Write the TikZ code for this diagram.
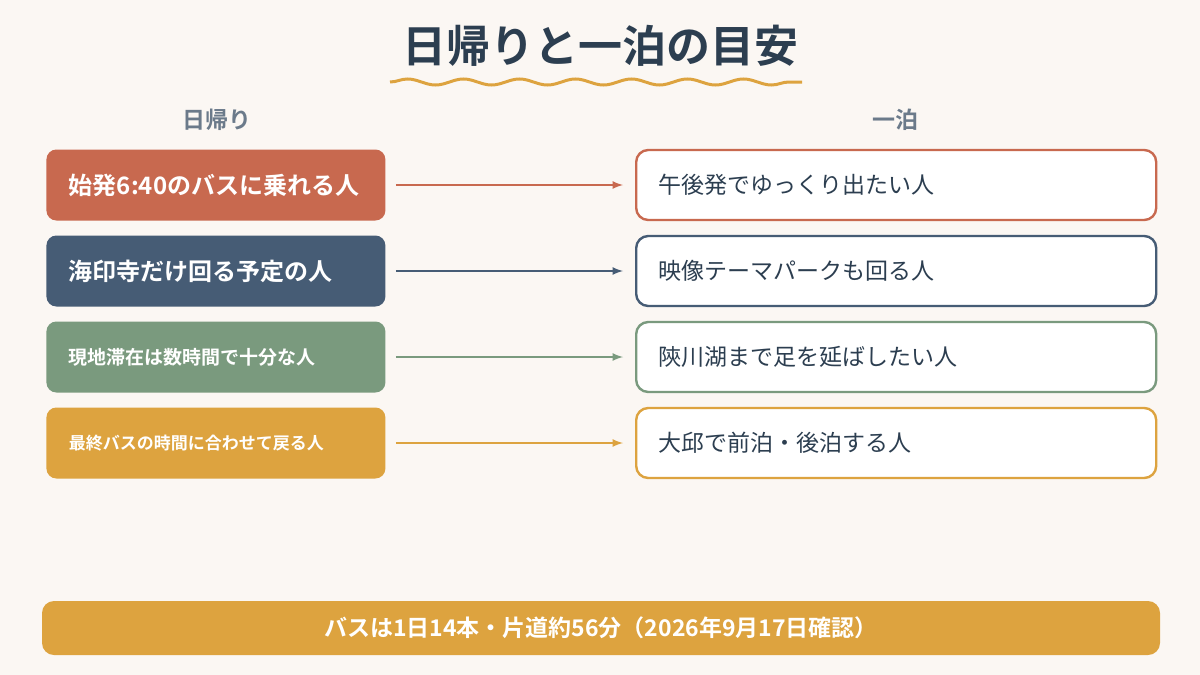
\documentclass[tikz,border=0pt]{standalone}
\usepackage{fontspec}
\setmainfont{Noto Sans CJK JP}[BoldFont=* Bold]
\usetikzlibrary{positioning,decorations.pathmorphing}
\definecolor{bg}{HTML}{FBF7F3}
\definecolor{ink}{HTML}{2C3E50}
\definecolor{grayhead}{HTML}{6B7A8A}
\definecolor{cRed}{HTML}{C8694F}
\definecolor{cBlue}{HTML}{465C75}
\definecolor{cGreen}{HTML}{7A9A7E}
\definecolor{cGold}{HTML}{DDA33F}
\tikzset{
    >=latex,
    % left boxes
    dayb/.style={
           rectangle, rounded corners=5pt,
           fill=#1, draw=none, text=white,
           minimum width=169.5pt, minimum height=35.5pt,
           anchor=west, align=left, text width=147pt, inner xsep=11pt},
    % right boxes
    stayb/.style={
           rectangle, rounded corners=6pt,
           fill=white, draw=#1, line width=1.2pt, text=ink,
           minimum width=260pt, minimum height=35pt,
           anchor=west, align=left, text width=238pt, inner xsep=11pt,
           font=\fontsize{11.5}{13}\selectfont},
    pil/.style={->, line width=0.8pt, draw=#1},
    head/.style={text=grayhead, font=\bfseries\fontsize{11.5}{13}\selectfont}
}
\begin{document}
\begin{tikzpicture}[x=0.5pt, y=-0.5pt]
\fill[bg] (0,0) rectangle (1200,675);
\useasboundingbox (0,0) rectangle (1200,675);

%title
\node[text=ink, font=\bfseries\fontsize{22}{26}\selectfont] (title) at (600,46) {日帰りと一泊の目安};
\draw[cGold, line width=1.5pt, decorate, decoration={snake, amplitude=1.5pt, segment length=28pt}]
    (390,82) -- (802,82);

%headers
\node[head] (hday) at (217,120) {日帰り};
\node[head] (hstay) at (895,120) {一泊};

%nodes
\node[dayb=cRed, font=\bfseries\fontsize{12}{14}\selectfont] (d1) at (46,185) {始発6:40のバスに乗れる人};
\node[dayb=cBlue, font=\bfseries\fontsize{12}{14}\selectfont] (d2) at (46,271) {海印寺だけ回る予定の人};
\node[dayb=cGreen, font=\bfseries\fontsize{9.5}{11}\selectfont] (d3) at (46,357) {現地滞在は数時間で十分な人};
\node[dayb=cGold, font=\bfseries\fontsize{8.5}{10}\selectfont] (d4) at (46,443) {最終バスの時間に合わせて戻る人};

\node[stayb=cRed] (s1) at (635,185) {午後発でゆっくり出たい人};
\node[stayb=cBlue] (s2) at (635,271) {映像テーマパークも回る人};
\node[stayb=cGreen] (s3) at (635,357) {陝川湖まで足を延ばしたい人};
\node[stayb=cGold] (s4) at (635,443) {大邱で前泊・後泊する人};

\draw[pil=cRed] ([xshift=5pt]d1.east) -- ([xshift=-6pt]s1.west);
\draw[pil=cBlue] ([xshift=5pt]d2.east) -- ([xshift=-6pt]s2.west);
\draw[pil=cGreen] ([xshift=5pt]d3.east) -- ([xshift=-6pt]s3.west);
\draw[pil=cGold] ([xshift=5pt]d4.east) -- ([xshift=-6pt]s4.west);

%bottom bar
\node[rectangle, rounded corners=6pt, fill=cGold, text=white,
      minimum width=559pt, minimum height=27pt,
      font=\bfseries\fontsize{11.5}{13}\selectfont] (note) at (601,628)
      {バスは1日14本・片道約56分（2026年9月17日確認）};
\end{tikzpicture}
\end{document}
